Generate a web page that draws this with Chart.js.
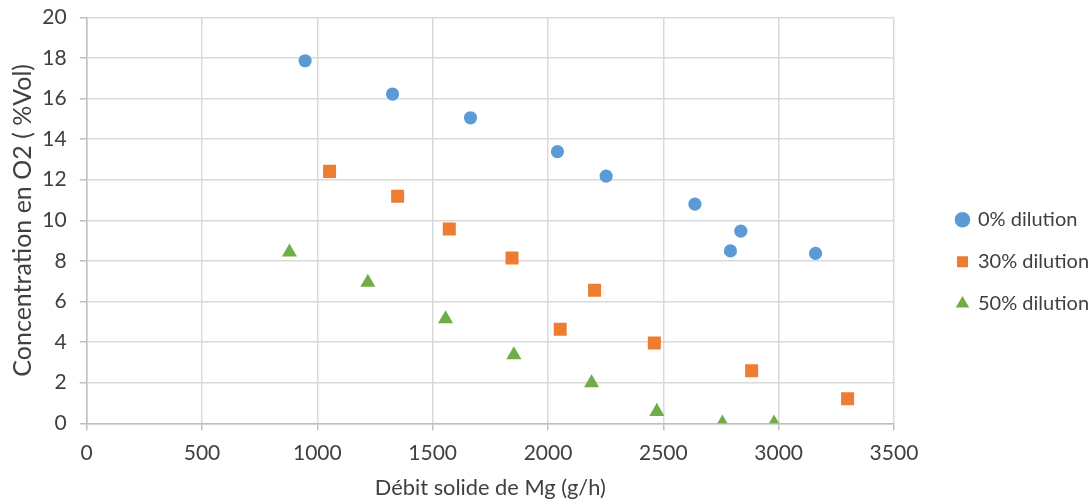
<!DOCTYPE html>
<html>
<head>
<meta charset="utf-8">
<script src="https://cdn.jsdelivr.net/npm/chart.js@4"></script>
<style>
  html, body { margin: 0; padding: 0; background: #fff; }
  #wrap { width: 1092px; height: 503px; }
</style>
</head>
<body>
<div id="wrap"><canvas id="chart" width="1092" height="503"></canvas></div>
<script>
// data
var x0 = [947, 1326, 1664, 2041, 2252, 2637, 2836, 2791, 3160];
var y0 = [17.86, 16.22, 15.05, 13.38, 12.18, 10.80, 9.47, 8.49, 8.37];
var x30 = [1053, 1348, 1572, 1844, 2202, 2053, 2461, 2883, 3299];
var y30 = [12.41, 11.18, 9.57, 8.14, 6.55, 4.63, 3.96, 2.59, 1.21];
var x50 = [879, 1219, 1556, 1852, 2189, 2472, 2756, 2980];
var y50 = [8.43, 6.94, 5.14, 3.37, 1.99, 0.58, 0, 0];

var seriesNames = ['0% dilution', '30% dilution', '50% dilution'];
var xTitle = 'Débit solide de Mg (g/h)';
var yTitle = 'Concentration en O2 ( %Vol)';

function toPoints(xs, ys) {
  var pts = [];
  xs.forEach(function(x, i) {
    pts.push({ x: x, y: ys[i] });
  });
  return pts;
}

var textColor = '#404040';
var font = 'Lato';

// move the legend block to where it sits in the picture
var legendPlace = {
  id: 'legendPlace',
  afterLayout: function(chart) {
    var lg = chart.legend;
    if (!lg) return;
    var dx = 935 - lg.left;
    lg.left += dx;
    lg.right += dx;
    var h = lg.bottom - lg.top;
    lg.top = 261.7 - h / 2;
    lg.bottom = lg.top + h;
  }
};

new Chart(document.getElementById('chart'), {
  type: 'scatter',
  data: {
    datasets: [{
      label: seriesNames[0],
      data: toPoints(x0, y0),
      pointStyle: 'circle',
      pointRadius: 6.6,
      pointHoverRadius: 6.6,
      backgroundColor: '#5B9BD5',
      borderColor: '#5B9BD5',
      borderWidth: 0
    }, {
      label: seriesNames[1],
      data: toPoints(x30, y30),
      pointStyle: 'rect',
      pointRadius: 9.2,
      pointHoverRadius: 9.2,
      backgroundColor: '#ED7D31',
      borderColor: '#ED7D31',
      borderWidth: 0
    }, {
      label: seriesNames[2],
      data: toPoints(x50, y50),
      pointStyle: 'triangle',
      pointRadius: 8.7,
      pointHoverRadius: 8.7,
      backgroundColor: '#70AD47',
      borderColor: '#70AD47',
      borderWidth: 0
    }]
  },
  options: {
    responsive: false,
    animation: false,
    layout: { padding: { top: 17.3, right: 34, bottom: 0, left: 0 } },
    plugins: {
      tooltip: { enabled: false },
      legend: {
        position: 'right',
        labels: {
          usePointStyle: true,
          boxWidth: 11,
          boxHeight: 11,
          padding: 22,
          color: textColor,
          font: { family: font, size: 20 }
        }
      }
    },
    scales: {
      x: {
        type: 'linear',
        min: 0,
        max: 3500,
        ticks: {
          stepSize: 500,
          color: textColor,
          padding: 10,
          font: { family: font, size: 21 },
          callback: function(v) { return String(v); }
        },
        grid: { color: '#d9d9d9', lineWidth: 1.5, tickLength: 7, tickColor: '#bfbfbf' },
        border: { color: '#bfbfbf', width: 1.5 },
        title: {
          display: true,
          text: xTitle,
          color: textColor,
          font: { family: font, size: 21.8 },
          padding: { top: 0, bottom: 2 }
        },
        afterFit: function(scale) { scale.height = 79.7; }
      },
      y: {
        min: 0,
        max: 20,
        ticks: {
          stepSize: 2,
          color: textColor,
          padding: 13,
          font: { family: font, size: 21 },
          callback: function(v) { return String(v); }
        },
        grid: { color: '#d9d9d9', lineWidth: 1.5, tickLength: 7, tickColor: '#bfbfbf' },
        border: { color: '#bfbfbf', width: 1.5 },
        title: {
          display: true,
          text: yTitle,
          color: textColor,
          font: { family: font, size: 25 },
          padding: { top: 8, bottom: 0 }
        },
        afterFit: function(scale) {
          scale.width = 86.7;
          scale.paddingTop = 0;
          scale.paddingBottom = 0;
        }
      }
    }
  },
  plugins: [legendPlace]
});
</script>
</body>
</html>
